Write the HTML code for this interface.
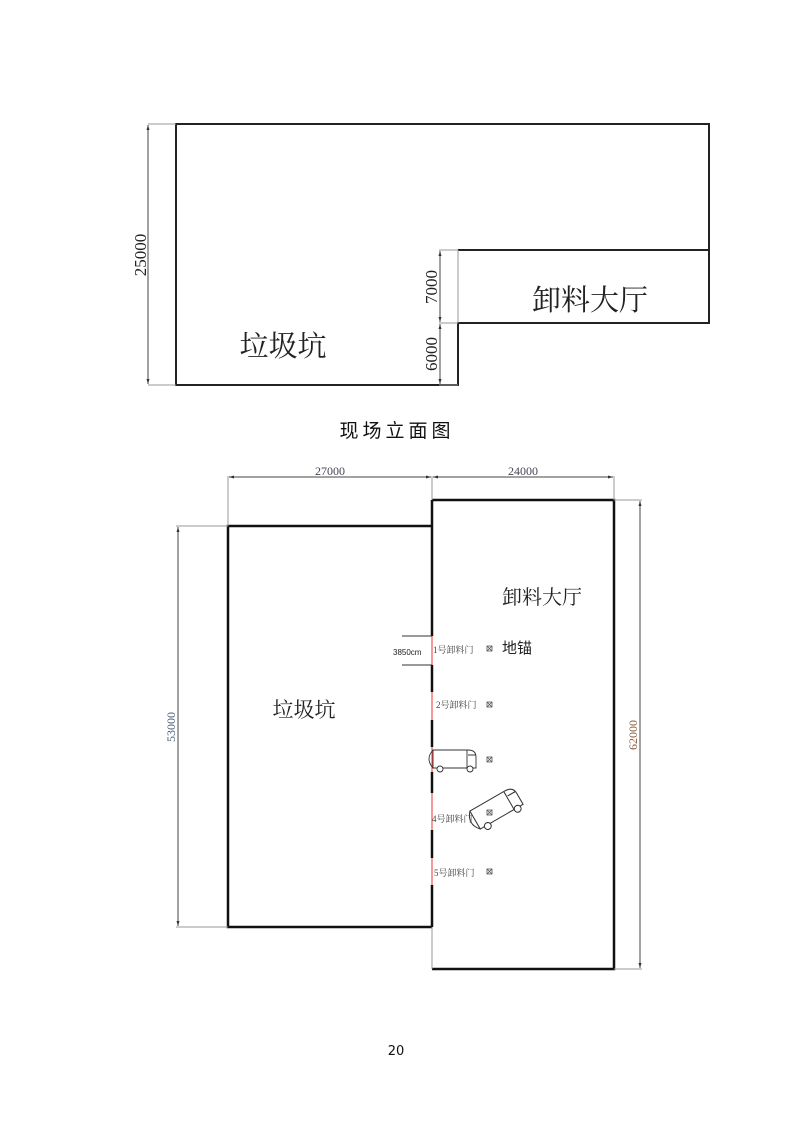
<!DOCTYPE html>
<html><head><meta charset="utf-8"><style>
html,body{margin:0;padding:0;background:#fff;width:793px;height:1122px;overflow:hidden}
svg{display:block}
</style></head><body>
<svg width="793" height="1122" viewBox="0 0 793 1122" xmlns="http://www.w3.org/2000/svg" font-family="Liberation Serif, Noto Serif CJK SC, serif">
<defs>
<marker id="a" markerWidth="6" markerHeight="6" refX="5" refY="3" orient="auto-start-reverse" markerUnits="userSpaceOnUse"><path d="M0,1.5 L5,3 L0,4.5 z" fill="#333"/></marker>
</defs>
<g fill="none" stroke="#222" stroke-width="2">
<path d="M176,124 H709 V323 H458 V385 H176 Z"/>
<path d="M458,250 H709"/>
</g>
<g stroke="#999" stroke-width="1" fill="none">
<path d="M458,250 V323"/>
<path d="M148,124 H176 M148,385 H176"/>
<path d="M439,250 H458 M439,323 H458 M439,385 H458"/>
</g>
<g stroke="#444" stroke-width="1" marker-start="url(#a)" marker-end="url(#a)">
<line x1="148" y1="125" x2="148" y2="384"/>
<line x1="440" y1="251" x2="440" y2="322"/>
<line x1="440" y1="324" x2="440" y2="384"/>
</g>
<g fill="#222" font-size="17">
<text transform="translate(148,255) rotate(-90)" text-anchor="middle" dy="-2">25000</text>
<text transform="translate(439,287) rotate(-90)" text-anchor="middle" dy="-2">7000</text>
<text transform="translate(439,354) rotate(-90)" text-anchor="middle" dy="-2">6000</text>
</g>
<text x="283" y="356" font-size="29" text-anchor="middle" fill="#222" font-family="Noto Serif CJK SC, serif">垃圾坑</text>
<text x="590" y="310" font-size="29" text-anchor="middle" fill="#222" font-family="Noto Serif CJK SC, serif">卸料大厅</text>
<text x="397" y="437" font-size="19" text-anchor="middle" fill="#111" letter-spacing="4" font-family="Noto Sans CJK SC, sans-serif">现场立面图</text>

<g fill="none" stroke="#111" stroke-width="2.5">
<path d="M432,526 H228 V927 H432"/>
<path d="M432,500 H614 V969 H432"/>
</g>
<line x1="432" y1="636" x2="432" y2="927" stroke="#e33" stroke-width="1"/>
<g stroke="#111" stroke-width="2.5">
<line x1="432" y1="500" x2="432" y2="636"/>
<line x1="432" y1="665" x2="432" y2="692"/>
<line x1="432" y1="720" x2="432" y2="747"/>
<line x1="432" y1="772" x2="432" y2="793"/>
<line x1="432" y1="830" x2="432" y2="858"/>
<line x1="432" y1="885" x2="432" y2="927"/>
</g>
<g stroke="#999" stroke-width="1" fill="none">
<path d="M228,476 V526 M432,476 V500 M614,476 V500"/>
<path d="M176,526 H228 M176,927 H228"/>
<path d="M614,500 H642 M614,969 H642"/>
<path d="M432,927 V969"/>
</g>
<g stroke="#444" stroke-width="1" marker-start="url(#a)" marker-end="url(#a)">
<line x1="229" y1="477" x2="431" y2="477"/>
<line x1="433" y1="477" x2="613" y2="477"/>
<line x1="178" y1="527" x2="178" y2="926"/>
<line x1="640" y1="501" x2="640" y2="968"/>
</g>
<g font-size="12">
<text x="330" y="475" text-anchor="middle" fill="#445">27000</text>
<text x="523" y="475" text-anchor="middle" fill="#445">24000</text>
<text transform="translate(178,727) rotate(-90)" text-anchor="middle" dy="-3" fill="#4a5a7a">53000</text>
<text transform="translate(640,735) rotate(-90)" text-anchor="middle" dy="-3" fill="#8a5a3a">62000</text>
</g>
<g stroke="#333" stroke-width="1"><line x1="402" y1="636" x2="432" y2="636"/><line x1="402" y1="665" x2="432" y2="665"/></g>
<text x="393" y="655" font-size="8" font-family="Liberation Sans, sans-serif" fill="#222">3850cm</text>
<text x="304" y="717" font-size="21" text-anchor="middle" fill="#222" font-family="Noto Serif CJK SC, serif">垃圾坑</text>
<text x="542" y="604" font-size="20" text-anchor="middle" fill="#222" font-family="Noto Serif CJK SC, serif">卸料大厅</text>
<text x="502" y="653" font-size="15" fill="#222" font-family="Noto Sans CJK SC, sans-serif">地锚</text>
<g font-size="9" fill="#444" font-family="Liberation Serif, Noto Serif CJK SC, serif">
<text x="433" y="653">1号卸料门</text>
<text x="436" y="708">2号卸料门</text>
<text x="432" y="822">4号卸料门</text>
<text x="434" y="876">5号卸料门</text>
</g>
<g fill="none" stroke="#555" stroke-width="0.8">
<rect x="487" y="646" width="5" height="5"/><path d="M487,646 l5,5 M492,646 l-5,5"/>
<rect x="487" y="702" width="5" height="5"/><path d="M487,702 l5,5 M492,702 l-5,5"/>
<rect x="487" y="757" width="5" height="5"/><path d="M487,757 l5,5 M492,757 l-5,5"/>
<rect x="487" y="810" width="5" height="5"/><path d="M487,810 l5,5 M492,810 l-5,5"/>
<rect x="487" y="869" width="5" height="5"/><path d="M487,869 l5,5 M492,869 l-5,5"/>
</g>
<g fill="none" stroke="#333" stroke-width="0.9">
<path d="M433,750 H468 Q476,750 476,757 V768 H433 Z"/>
<path d="M467,750 V768 M468,755 H476"/>
<path d="M433,750 Q425,759 433,768"/>
<circle cx="440" cy="769" r="3" fill="#fff"/>
<circle cx="470" cy="769" r="3" fill="#fff"/>
</g>
<g fill="none" stroke="#333" stroke-width="0.9" transform="translate(496,808) rotate(-30) scale(1.15) translate(-454,-759)">
<path d="M433,750 H468 Q476,750 476,757 V768 H433 Z"/>
<path d="M467,750 V768 M468,755 H476"/>
<path d="M433,750 Q425,759 433,768"/>
<circle cx="440" cy="769" r="3" fill="#fff"/>
<circle cx="470" cy="769" r="3" fill="#fff"/>
</g>
<text x="396" y="1055" font-size="13" text-anchor="middle" fill="#111" font-family="DejaVu Sans, sans-serif">20</text>
</svg>
</body></html>
